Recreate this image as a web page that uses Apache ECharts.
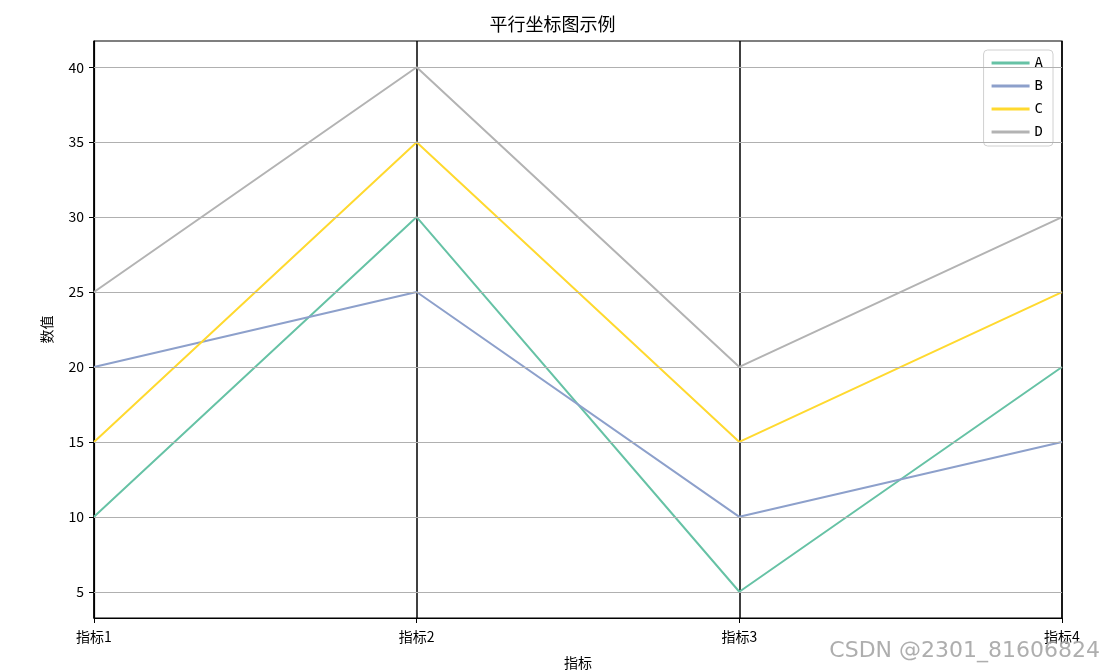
<!DOCTYPE html>
<html><head><meta charset="utf-8">
<script src="https://cdn.jsdelivr.net/npm/echarts@6/dist/echarts.min.js"></script>
<style>html,body{margin:0;padding:0;background:#fff}#c{width:1105px;height:670px}</style>
</head><body><div id="c"></div>
<script>
const categories = ['指标1', '指标2', '指标3', '指标4'];
const seriesNames = ['A', 'B', 'C', 'D'];
const valuesA = [10, 30, 5, 20];
const valuesB = [20, 25, 10, 15];
const valuesC = [15, 35, 15, 25];
const valuesD = [25, 40, 20, 30];
const yTicks = [5, 10, 15, 20, 25, 30, 35, 40];
const colors = ['#66c2a5', '#8da0cb', '#ffd92f', '#b3b3b3'];
const allValues = [valuesA, valuesB, valuesC, valuesD];

const font = '"Noto Sans CJK SC", "DejaVu Sans", sans-serif';
const chart = echarts.init(document.getElementById('c'));

const series = seriesNames.map((n, i) => ({
  name: n, type: 'line', data: allValues[i], symbol: 'none',
  lineStyle: { color: colors[i], width: 2 }, itemStyle: { color: colors[i] },
  z: 3
}));
series.push({
  name: '__grid', type: 'line', data: [], silent: true, z: 1,
  markLine: {
    silent: true, symbol: 'none', label: { show: false },
    lineStyle: { color: '#b0b0b0', width: 1, type: 'solid' },
    data: yTicks.map(v => ({ yAxis: v }))
  }
});

chart.setOption({
  animation: false,
  title: { text: '平行坐标图示例', left: 'center', top: 10,
    textStyle: { fontFamily: font, fontSize: 18, fontWeight: 'normal', color: '#000' } },
  legend: {
    data: seriesNames, orient: 'vertical', right: 52, top: 50,
    backgroundColor: '#fff', borderColor: '#d0d0d0', borderWidth: 1, borderRadius: 4,
    padding: [6, 10, 7, 8], itemGap: 9, itemWidth: 38, itemHeight: 3, icon: 'rect',
    textStyle: { fontFamily: '"DejaVu Sans Mono", monospace', fontSize: 14, color: '#000' }
  },
  grid: { left: 94, right: 43, top: 41, bottom: 52, outerBoundsMode: 'none', containLabel: false,
    show: true, borderColor: '#000', borderWidth: 1.2, backgroundColor: 'transparent' },
  xAxis: {
    type: 'category', data: categories, boundaryGap: false,
    name: '指标', nameLocation: 'middle', nameGap: 38,
    nameTextStyle: { fontFamily: font, fontSize: 14, color: '#000' },
    axisLine: { show: true, lineStyle: { color: '#000', width: 1.2 } },
    axisTick: { show: true, length: 5, lineStyle: { color: '#000' } },
    axisLabel: { fontFamily: font, fontSize: 14, color: '#000', margin: 12 },
    splitLine: { show: true, lineStyle: { color: '#000', width: 1.5 } }
  },
  yAxis: {
    type: 'value', min: 3.25, max: 41.75,
    name: '数值', nameLocation: 'middle', nameGap: 40, nameRotate: 90,
    nameTextStyle: { fontFamily: font, fontSize: 14, color: '#000' },
    axisLine: { show: true, lineStyle: { color: '#000', width: 1.2 } },
    axisTick: { show: true, length: 5, lineStyle: { color: '#000' }, customValues: yTicks },
    axisLabel: { fontFamily: font, fontSize: 14, color: '#000', margin: 10, customValues: yTicks },
    splitLine: { show: false }
  },
  graphic: [{
    type: 'text', right: 5, bottom: 8, z: 100,
    style: { text: 'CSDN @2301_81606824', fontFamily: '"DejaVu Sans", sans-serif', fontSize: 22,
      fill: 'rgba(160,160,160,0.85)', textShadowColor: 'rgba(255,255,255,0.9)', textShadowBlur: 2, textShadowOffsetX: 1, textShadowOffsetY: 1 }
  }],
  series: series
});
</script></body></html>
